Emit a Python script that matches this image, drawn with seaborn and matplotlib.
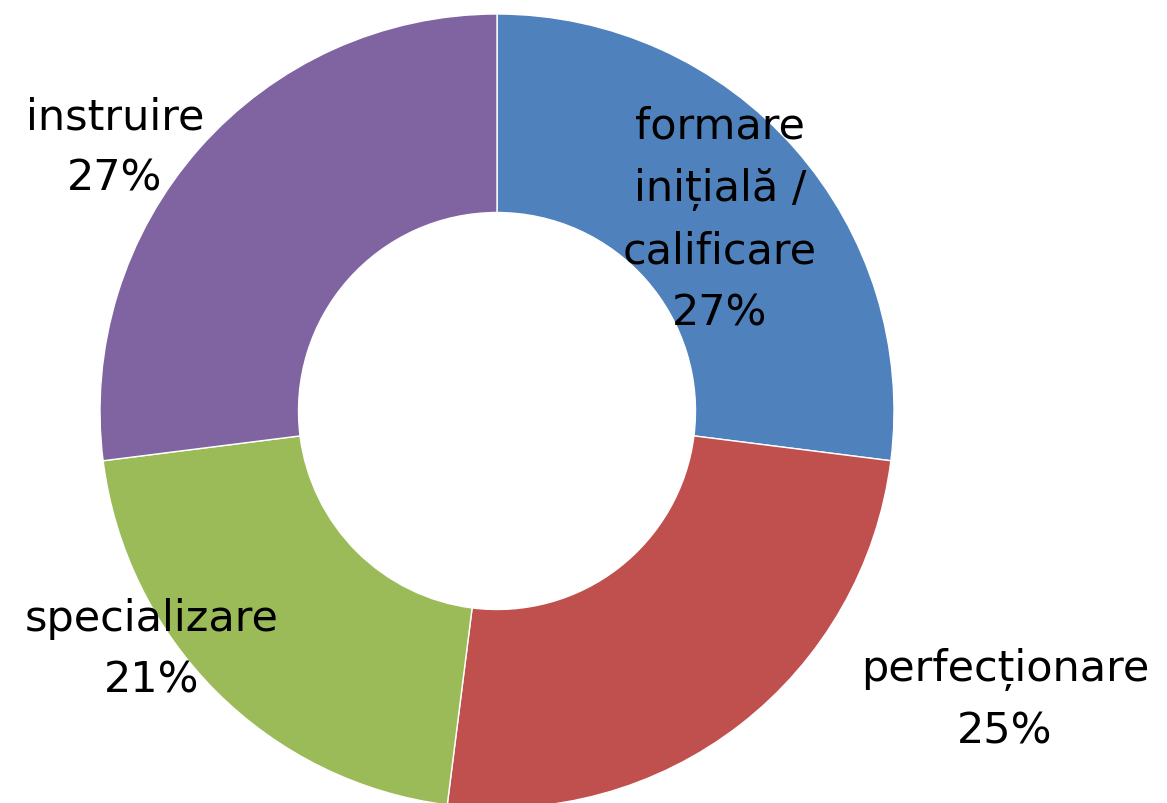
import matplotlib
matplotlib.use("Agg")
import matplotlib.pyplot as plt
import seaborn as sns

categories = ["formare\ninițială /\ncalificare", "perfecționare", "specializare", "instruire"]
values = [27, 25, 21, 27]
pct_labels = ["27%", "25%", "21%", "27%"]
colors = ["#4F81BD", "#C0504D", "#9BBB59", "#8064A2"]

sns.set_theme(style="white")
plt.rcParams['font.family'] = ['DejaVu Sans']

fig = plt.figure(figsize=(11.67, 8.04), dpi=100)
ax = fig.add_axes([0, 0, 1, 1])
ax.pie(values, colors=colors, startangle=90, counterclock=False, radius=1.0,
       wedgeprops=dict(width=0.5, edgecolor="white", linewidth=1.0))

# layout: pie centre at pixel (497, 412), radius 397 px
cx, cy, r = 497, 412, 397
ax.set_xlim(-cx / r, (1167 - cx) / r)
ax.set_ylim(-(804 - cy) / r, cy / r)
ax.set_aspect("equal")
ax.axis("off")

label_px = [(720, 220), (1005, 700), (152, 650), (115, 148)]
for name, pct, (px, py) in zip(categories, pct_labels, label_px):
    ax.text((px - cx) / r, (cy - py) / r, f"{name}\n{pct}", ha="center", va="center",
            fontsize=31, color="black", linespacing=1.6)

fig.savefig("out.png", dpi=100)
